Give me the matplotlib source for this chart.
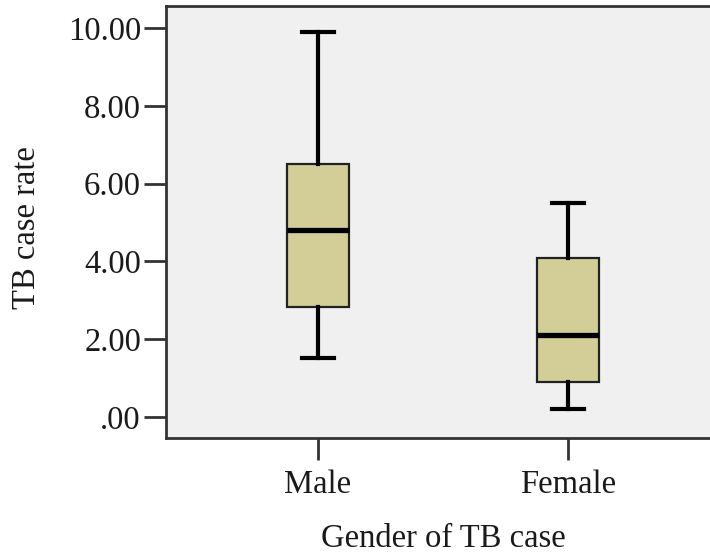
import matplotlib
matplotlib.use("Agg")
import matplotlib.pyplot as plt
from matplotlib.ticker import FuncFormatter

# box plot summary
groups = ["Male", "Female"]
whisker_low = [1.52, 0.21]
q1 = [2.83, 0.90]
medians = [4.81, 2.11]
q3 = [6.50, 4.09]
whisker_high = [9.90, 5.50]
y_ticks = [0, 2, 4, 6, 8, 10]

plt.rcParams["font.family"] = ["Liberation Serif", "DejaVu Serif"]

fig = plt.figure(figsize=(7.1, 5.56), dpi=100)
ax = fig.add_axes([166 / 710, 118 / 556, 559 / 710, 432 / 556])
ax.set_facecolor("#F0F0F0")

stats = []
for i, g in enumerate(groups):
    stats.append({
        "label": g,
        "whislo": whisker_low[i],
        "q1": q1[i],
        "med": medians[i],
        "q3": q3[i],
        "whishi": whisker_high[i],
        "fliers": [],
    })

ax.bxp(
    stats,
    positions=[1, 2],
    widths=0.252,
    patch_artist=True,
    showfliers=False,
    boxprops=dict(facecolor="#D3CE97", edgecolor="#222222", linewidth=1.6),
    medianprops=dict(color="black", linewidth=3.8),
    whiskerprops=dict(color="black", linewidth=3),
    capprops=dict(color="black", linewidth=3),
    capwidths=0.128,
)

ax.set_xlim(0.392, 2.628)
ax.set_ylim(-0.54, 10.57)
ax.set_yticks(y_ticks)
ax.yaxis.set_major_formatter(
    FuncFormatter(lambda v, p: ("%.2f" % v).lstrip("0") if v < 1 else "%.2f" % v)
)

for s in ax.spines.values():
    s.set_color("#333333")
    s.set_linewidth(2)

ax.tick_params(axis="both", length=16, width=2, color="#333333",
               labelsize=23.5, labelcolor="#1a1a1a")
ax.tick_params(axis="y", pad=2)
ax.tick_params(axis="x", pad=7)

ax.set_ylabel("TB case rate", fontsize=23.5, va="center", color="#1a1a1a")
ax.yaxis.set_label_coords(-0.249, 0.488)
ax.set_xlabel("Gender of TB case", fontsize=23.5, va="center", color="#1a1a1a")
ax.xaxis.set_label_coords(0.4955, -0.234)

fig.savefig("out.png", dpi=100)
